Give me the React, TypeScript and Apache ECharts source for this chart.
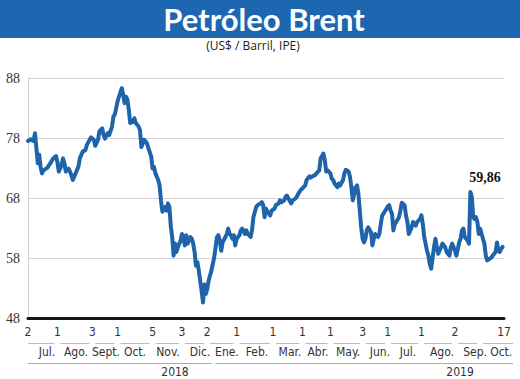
import React, { useEffect, useRef } from "react";
import * as echarts from "echarts";

const titleText = "Petróleo Brent";
const subtitleText = "(US$ / Barril, IPE)";
const lastValueLabel = "59,86";

// trading-day index (0 = 2 Jul 2018) and Brent price, US$/barrel
const dayIndex = [
  0, 2, 4, 5, 7, 8, 9, 10, 11, 13, 14, 16, 18, 20, 21, 22, 24, 25, 26, 27, 29, 30, 31, 32, 34, 36, 37, 39, 41, 42,
  44, 45, 47, 48, 50, 51, 53, 54, 55, 57, 58, 60, 61, 62, 64, 65, 67, 68, 69, 70, 71, 72, 73, 75, 76, 77, 79, 80, 81, 82,
  83, 85, 86, 88, 89, 90, 91, 93, 94, 95, 96, 98, 99, 100, 101, 102, 103, 104, 105, 106, 107, 109, 110, 111, 112, 113, 114, 116, 117, 118,
  119, 120, 121, 122, 123, 124, 125, 126, 127, 128, 129, 131, 132, 133, 134, 135, 136, 137, 138, 139, 141, 142, 143, 144, 145, 146, 147, 148, 149, 151,
  152, 153, 155, 156, 157, 159, 160, 161, 163, 164, 166, 167, 168, 169, 170, 171, 172, 173, 174, 176, 177, 179, 180, 181, 183, 184, 185, 186, 188, 189,
  191, 192, 193, 195, 196, 198, 199, 201, 202, 203, 205, 206, 208, 209, 211, 212, 213, 214, 216, 217, 218, 219, 221, 222, 223, 225, 226, 227, 229, 230,
  231, 232, 233, 234, 235, 236, 237, 238, 239, 240, 241, 242, 243, 245, 246, 247, 248, 250, 251, 252, 253, 254, 256, 257, 258, 259, 260, 261, 262, 263,
  265, 266, 267, 269, 270, 271, 272, 274, 275, 277, 278, 280, 281, 282, 283, 284, 285, 286, 287, 288, 289, 290, 291, 292, 293, 295, 296, 298, 299, 301,
  302, 303, 305, 306, 308, 309, 310, 311, 312, 314, 315, 316, 317, 318, 319, 320, 321, 322, 323, 324, 326, 327, 328, 330, 331, 332, 334, 335, 336, 337,
  338, 339,
];
const brent = [
  77.5, 77.8, 77.5, 78.8, 73.8, 75.2, 73.2, 72.1, 72.6, 72.9, 73.1, 73.8, 74.6, 75.0, 74.0, 72.4, 73.5, 74.6, 73.8, 72.4, 72.9, 72.4, 71.8, 71.0, 72.1, 73.2, 74.6, 75.7, 76.0, 76.8,
  77.7, 78.1, 77.7, 76.7, 77.7, 79.1, 79.6, 78.5, 77.9, 78.8, 78.5, 79.9, 81.6, 81.9, 84.1, 84.9, 86.3, 85.2, 83.8, 84.9, 84.4, 82.7, 80.5, 80.7, 81.3, 80.5, 79.9, 79.3, 76.5, 77.1,
  77.7, 77.1, 76.3, 74.9, 72.9, 73.2, 72.1, 71.0, 70.1, 67.6, 65.7, 66.5, 65.9, 67.1, 66.5, 63.3, 61.5, 58.4, 60.4, 59.0, 59.8, 60.9, 62.0, 61.5, 60.1, 61.8, 60.4, 61.5, 61.2, 60.4,
  59.0, 56.7, 57.3, 55.9, 54.2, 52.5, 50.6, 53.6, 52.0, 52.8, 54.2, 55.9, 57.0, 58.1, 59.8, 61.5, 61.8, 60.9, 59.2, 60.6, 61.5, 62.0, 62.9, 62.0, 61.8, 61.2, 61.8, 60.1, 61.2, 61.8,
  62.6, 62.9, 62.0, 62.6, 62.0, 61.5, 62.6, 64.8, 66.5, 66.8, 67.1, 67.3, 66.8, 64.8, 66.2, 65.7, 65.4, 65.1, 65.9, 66.2, 66.8, 67.1, 67.6, 67.3, 67.6, 68.2, 68.4, 67.9, 67.1, 67.6,
  67.9, 68.2, 68.7, 69.4, 69.6, 70.1, 71.0, 71.6, 71.4, 71.6, 71.8, 72.1, 72.6, 74.6, 75.4, 74.3, 72.4, 72.6, 72.1, 71.2, 71.0, 70.4, 69.8, 70.4, 70.1, 71.0, 72.1, 72.7, 72.4, 71.5,
  69.8, 67.6, 68.7, 69.8, 70.1, 68.7, 65.9, 63.1, 61.2, 60.6, 61.2, 62.6, 63.1, 62.3, 60.1, 61.2, 62.0, 61.5, 62.0, 63.7, 65.1, 65.4, 66.2, 66.6, 66.8, 65.9, 65.4, 62.6, 63.7, 64.0,
  64.8, 65.9, 67.2, 66.8, 65.1, 64.0, 62.0, 63.1, 64.0, 63.4, 64.0, 64.5, 65.1, 63.7, 61.5, 60.4, 59.2, 58.4, 57.0, 56.2, 58.1, 59.8, 61.2, 59.8, 58.7, 59.8, 60.4, 59.8, 59.0, 58.4,
  59.8, 60.4, 59.2, 58.4, 60.6, 61.2, 62.6, 62.9, 61.5, 60.9, 60.4, 69.0, 68.2, 64.8, 64.5, 64.8, 64.0, 62.0, 62.9, 62.0, 60.4, 58.4, 57.6, 57.9, 58.1, 58.4, 59.0, 60.6, 59.2, 59.0,
  59.5, 59.86,
];

// axis tick labels
const dayTickPos = [0, 21, 46, 64, 89, 110, 128, 149, 175, 196, 216, 239, 257, 281, 305, 323, 340];
const dayTickLabels = ["2", "1", "3", "1", "5", "3", "2", "1", "1", "1", "1", "3", "1", "1", "2", "", "17"];
const monthPos = [13.6, 34.3, 55.7, 76.4, 100, 122.9, 142.1, 163.6, 187.1, 207.1, 228.6, 251.4, 271.4, 295.7, 319.3, 338];
const monthLabels = ["Jul.", "Ago.", "Sept.", "Oct.", "Nov.", "Dic.", "Ene.", "Feb.", "Mar.", "Abr.", "May.", "Jun.", "Jul.", "Ago.", "Sep.", "Oct."];
const yearPos = [105, 308.6];
const yearLabels = ["2018", "2019"];
const yearBreak = 132.5;

const X_MIN = 0;
const X_MAX = 340;
const LABEL_FONT = "'Liberation Sans Narrow', 'DejaVu Sans Condensed', 'Noto Sans', sans-serif";

const pick = (positions: number[], labels: string[]) => (v: number) => {
  const i = positions.findIndex((p) => Math.abs(p - v) < 0.01);
  return i >= 0 ? labels[i] : "";
};

export default function App() {
  const ref = useRef<HTMLDivElement>(null);

  useEffect(() => {
    if (!ref.current) return;
    const chart = echarts.init(ref.current, undefined, { renderer: "svg" });

    const labelAxis = (offset: number, positions: number[], labels: string[], size: number) => ({
      type: "value",
      min: X_MIN,
      max: X_MAX,
      position: "bottom",
      offset,
      axisLine: { show: false },
      axisTick: { show: false },
      splitLine: { show: false },
      axisLabel: {
        customValues: positions,
        formatter: pick(positions, labels),
        margin: 8,
        fontSize: size,
        color: "#333",
        fontFamily: LABEL_FONT,
        hideOverlap: false,
      },
    });

    chart.setOption({
      animation: false,
      backgroundColor: "#ffffff",
      title: [
        {
          text: titleText,
          left: 264,
          top: 3,
          padding: 0,
          textAlign: "center",
          textStyle: { color: "#ffffff", fontSize: 31, lineHeight: 32, fontWeight: "bold", fontFamily: "Lato, 'Open Sans', sans-serif" },
        },
        {
          text: subtitleText,
          left: 253,
          top: 39,
          padding: 0,
          textAlign: "center",
          textStyle: { color: "#222", fontSize: 12, lineHeight: 13, fontWeight: "normal", fontFamily: "'Open Sans', 'Noto Sans', sans-serif" },
        },
      ],
      grid: { left: 28, right: 16, top: 78, bottom: 61, containLabel: false },
      xAxis: [
        {
          type: "value",
          min: X_MIN,
          max: X_MAX,
          position: "bottom",
          axisLine: { show: true, onZero: false, lineStyle: { color: "#151515", width: 3 } },
          axisTick: { show: false },
          splitLine: { show: false },
          axisLabel: {
            customValues: dayTickPos,
            formatter: pick(dayTickPos, dayTickLabels),
            margin: 8,
            fontSize: 12,
            color: "#333",
            fontFamily: LABEL_FONT,
            hideOverlap: false,
          },
        },
        labelAxis(20, monthPos, monthLabels, 12),
        labelAxis(40, yearPos, yearLabels, 12),
      ],
      yAxis: {
        type: "value",
        min: 48,
        max: 88,
        interval: 10,
        axisLine: { show: true, lineStyle: { color: "#cfcfcf", width: 1 } },
        axisTick: { show: false },
        splitLine: { show: true, lineStyle: { color: "#d2d2d2", width: 1 } },
        axisLabel: { fontSize: 14, color: "#333", margin: 8, fontFamily: "'Liberation Serif', serif" },
      },
      series: [
        {
          type: "line",
          xAxisIndex: 0,
          data: dayIndex.map((d, i) => [d, brent[i]]),
          showSymbol: false,
          symbol: "none",
          lineStyle: { color: "#1f64ab", width: 4, join: "round", cap: "round" },
          z: 5,
        },
      ],
    });

    const px = (t: number) => chart.convertToPixel({ xAxisIndex: 0 }, t) as number;
    const graphics: any[] = [
      { type: "rect", z: -10, shape: { x: 0, y: 0, width: 520, height: 38 }, style: { fill: "#1c67b0" } },
      {
        type: "text",
        x: 485,
        y: 177,
        style: {
          text: lastValueLabel,
          fill: "#111",
          font: "bold 14px 'Liberation Serif', serif",
          textAlign: "center",
          textVerticalAlign: "middle",
        },
      },
    ];
    for (let i = 0; i < dayTickPos.length - 1; i++) {
      const x1 = i === 0 ? px(dayTickPos[i]) : px(dayTickPos[i]) + 3;
      const x2 = i === dayTickPos.length - 2 ? px(dayTickPos[i + 1]) + 9 : px(dayTickPos[i + 1]) - 3;
      graphics.push({
        type: "line",
        shape: { x1, y1: 343.5, x2, y2: 343.5 },
        style: { stroke: "#9cc3e4", lineWidth: 1 },
      });
    }
    graphics.push({
      type: "line",
      shape: { x1: px(X_MIN), y1: 363.5, x2: px(yearBreak) - 2, y2: 363.5 },
      style: { stroke: "#86b4de", lineWidth: 1 },
    });
    graphics.push({
      type: "line",
      shape: { x1: px(yearBreak) + 2, y1: 363.5, x2: px(X_MAX) + 9, y2: 363.5 },
      style: { stroke: "#86b4de", lineWidth: 1 },
    });
    chart.setOption({ graphic: graphics });

    return () => chart.dispose();
  }, []);

  return (
    <div
      ref={ref}
      style={{ position: "absolute", left: 0, top: 0, width: 520, height: 379, background: "#fff" }}
    />
  );
}
